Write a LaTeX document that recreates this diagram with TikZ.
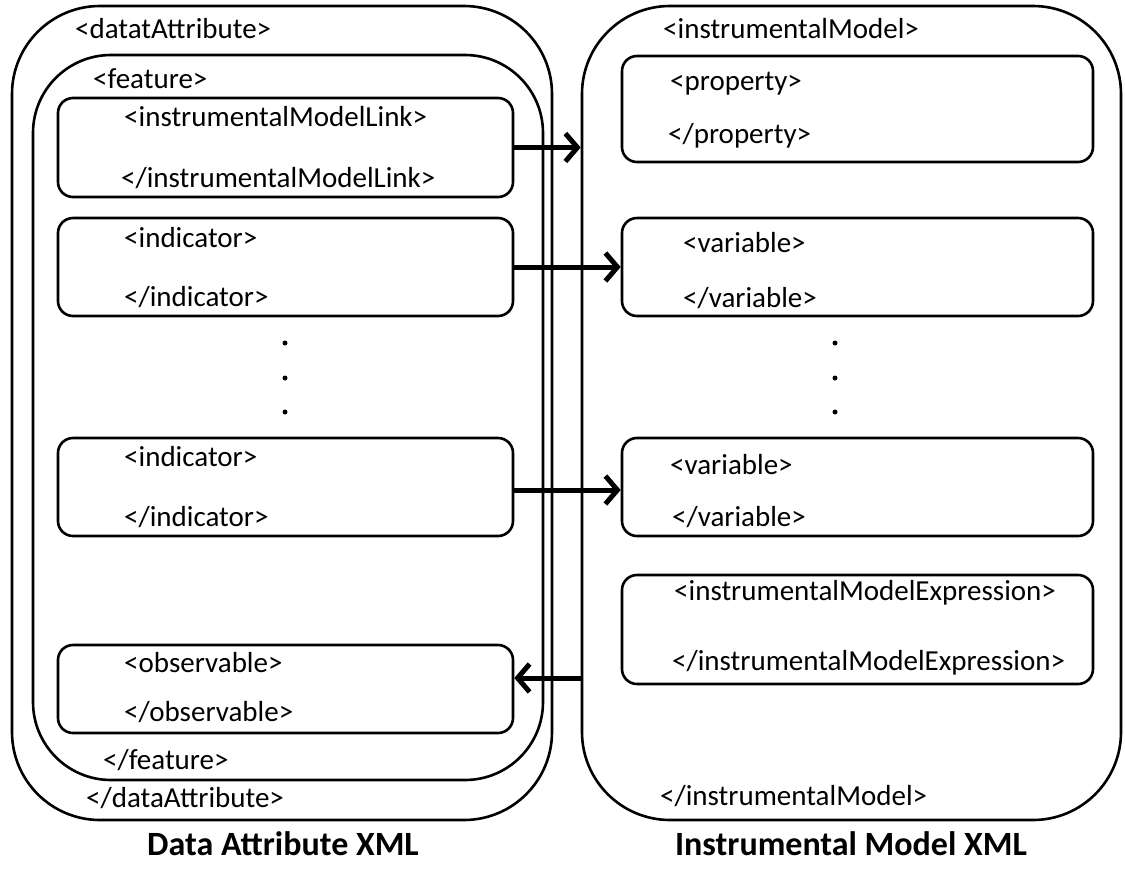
\documentclass[tikz,border=0pt]{standalone}
\usepackage{fontspec}
\setmainfont{Carlito}
\usetikzlibrary{arrows.meta}
\tikzset{
   outerbox/.style={draw, line width=2.6pt, rounded corners=88pt, inner sep=0pt},
   featbox/.style={draw, line width=2.6pt, rounded corners=78pt, inner sep=0pt},
   tagbox/.style={draw, line width=2.6pt, rounded corners=15pt, inner sep=0pt},
   tag/.style={anchor=west, inner sep=0pt, font=\fontsize{29}{34}\selectfont},
   title/.style={inner sep=0pt, font=\fontsize{34}{40}\selectfont\bfseries},
   link/.style={line width=5pt, -{Straight Barb[length=12pt, width=28pt]}},
   dot/.style={circle, fill, inner sep=0pt, minimum size=5pt}
}
\begin{document}
\begin{tikzpicture}[x=1pt, y=-1pt]
   \useasboundingbox (0,0) rectangle (1125,871);
   \node[outerbox, minimum width=540pt, minimum height=814pt] (dataattr) at (282,413) {};
   \node[featbox, minimum width=510pt, minimum height=725pt] (feature) at (288,417.5) {};
   \node[tagbox, minimum width=455pt, minimum height=99pt] (imlink) at (285.5,147.5) {};
   \node[tagbox, minimum width=455pt, minimum height=98pt] (ind1) at (285.5,267) {};
   \node[tagbox, minimum width=455pt, minimum height=98pt] (ind2) at (285.5,487) {};
   \node[tagbox, minimum width=455pt, minimum height=88pt] (obs) at (285.5,689) {};
   \node[tag] (t1) at (75,29) {<datatAttribute>};
   \node[tag] (t2) at (93,79) {<feature>};
   \node[tag] (t3) at (124,117) {<instrumentalModelLink>};
   \node[tag] (t4) at (121,178) {</instrumentalModelLink>};
   \node[tag] (t5) at (124,238) {<indicator>};
   \node[tag] (t6) at (124,297) {</indicator>};
   \node[tag] (t7) at (124,457) {<indicator>};
   \node[tag] (t8) at (124,517) {</indicator>};
   \node[tag] (t9) at (124,663) {<observable>};
   \node[tag] (t10) at (124,712) {</observable>};
   \node[tag] (t11) at (103,760) {</feature>};
   \node[tag] (t12) at (86,798) {</dataAttribute>};
   \node[dot] (d1) at (285,343) {};
   \node[dot] (d2) at (285,378) {};
   \node[dot] (d3) at (285,412) {};

   \node[outerbox, minimum width=539pt, minimum height=814pt] (imodel) at (851.5,413) {};
   \node[tagbox, minimum width=471pt, minimum height=106pt] (prop) at (857.5,109) {};
   \node[tagbox, minimum width=471pt, minimum height=98pt] (var1) at (857.5,267) {};
   \node[tagbox, minimum width=471pt, minimum height=98pt] (var2) at (857.5,487) {};
   \node[tagbox, minimum width=471pt, minimum height=109pt] (imexpr) at (857.5,629.5) {};
   \node[tag] (r1) at (663,29) {<instrumentalModel>};
   \node[tag] (r2) at (670,84) {<property>};
   \node[tag] (r3) at (668,136) {</property>};
   \node[tag] (r4) at (683,243) {<variable>};
   \node[tag] (r5) at (683,298) {</variable>};
   \node[tag] (r6) at (670,465) {<variable>};
   \node[tag] (r7) at (672,517) {</variable>};
   \node[tag] (r8) at (674,593) {<instrumentalModelExpression>};
   \node[tag] (r9) at (672,663) {</instrumentalModelExpression>};
   \node[tag] (r10) at (660,796) {</instrumentalModel>};
   \node[dot] (e1) at (835,343) {};
   \node[dot] (e2) at (835,378) {};
   \node[dot] (e3) at (835,412) {};

   \draw[link] (imlink.east) -- (imlink.east -| imodel.west);
   \draw[link] (ind1.east) -- (var1.west);
   \draw[link] (ind2.east |- 0,490) -- (var2.west |- 0,490);
   \draw[link] (imodel.west |- 0,678) -- (obs.east |- 0,678);

   \node[title] (dalabel) at (283,844) {Data Attribute XML};
   \node[title] (imlabel) at (851,844) {Instrumental Model XML};
\end{tikzpicture}
\end{document}
